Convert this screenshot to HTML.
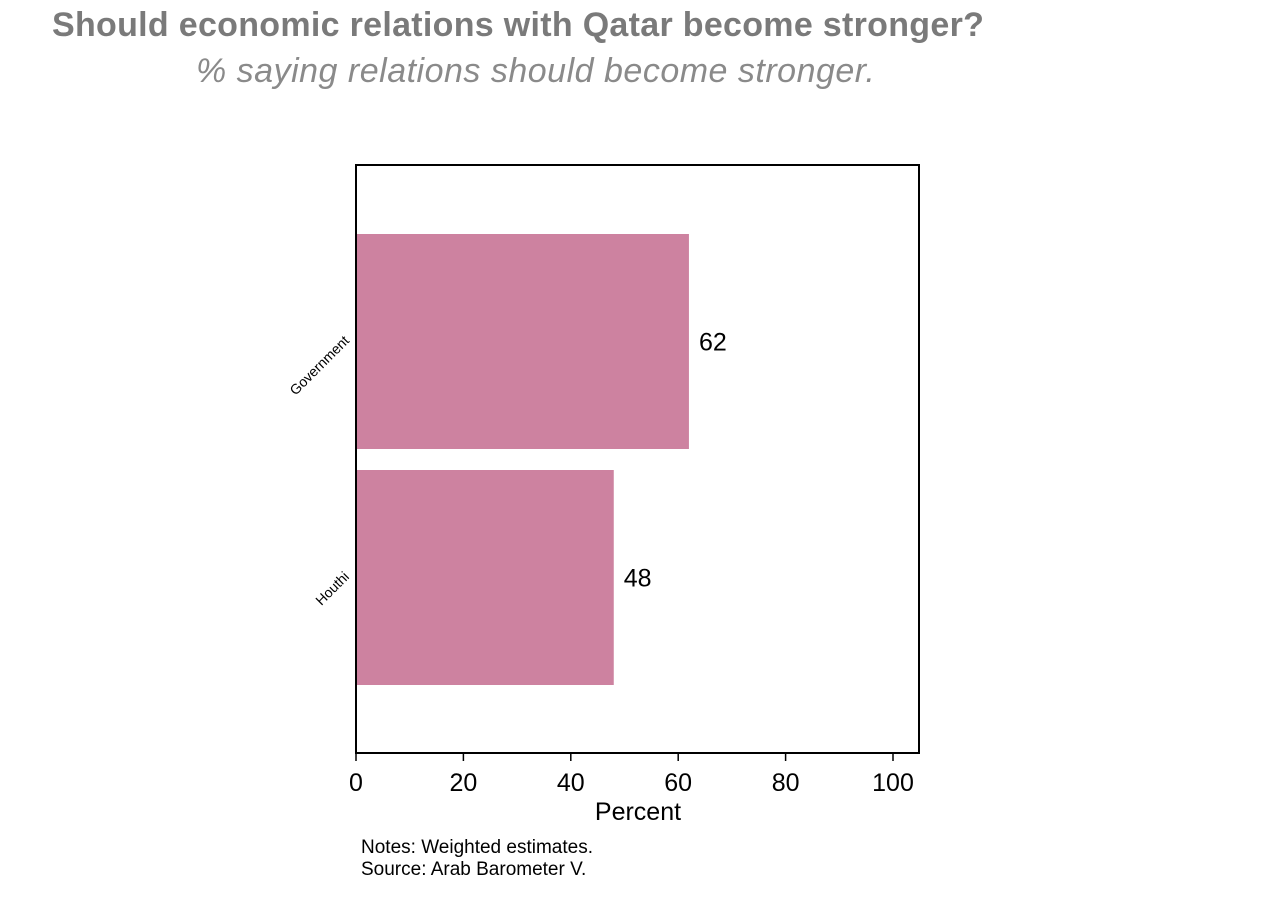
<!DOCTYPE html>
<html><head><meta charset="utf-8"><style>
body{margin:0;background:#fff;width:1280px;height:914px;overflow:hidden;font-family:"Liberation Sans",sans-serif}
.t1{position:absolute;left:52px;top:6px;font-size:34px;font-weight:bold;color:#7a7a7a;letter-spacing:0.3px}
.t2{position:absolute;left:196px;top:52px;font-size:34px;font-style:italic;color:#8a8a8a;letter-spacing:0.5px}
</style></head><body>
<div class="t1">Should economic relations with Qatar become stronger?</div>
<div class="t2">% saying relations should become stronger.</div>
<svg id="chart" width="1280" height="914" style="position:absolute;left:0;top:0"></svg>
<script>
const categories=["Government","Houthi"];
const values=[62,48];
const ticks=[0,20,40,60,80,100];
const svg=document.getElementById('chart');
const NS="http://www.w3.org/2000/svg";
const L=356,R=919,T=165,B=753,X100=893;
const xs=v=>L+(X100-L)*v/100;
const bandTop=[234,470],bandH=215;
function mk(tag,attrs){const e=document.createElementNS(NS,tag);for(const k in attrs)e.setAttribute(k,attrs[k]);svg.appendChild(e);return e;}
const frame=mk('rect',{x:L,y:T,width:R-L,height:B-T,fill:'none',stroke:'#000','stroke-width':2});


categories.forEach((c,i)=>{
  const y=bandTop[0]+i*(bandTop[1]-bandTop[0]);
  const b=mk('rect',{x:L+1,y:y,width:xs(values[i])-L-1,height:bandH,fill:'#cd82a0'});
  
  
  const v=mk('text',{x:xs(values[i])+10,y:y+bandH/2+9,'font-size':25,fill:'#000'});
  v.textContent=values[i];
  
  
  const cy=y+bandH/2;
  const lab=mk('text',{x:350,y:cy,'font-size':14,'text-anchor':'end',transform:`rotate(-45 350 ${cy})`});
  lab.textContent=c;
  
  
});
ticks.forEach(t=>{
  const x=xs(t);
  const l=mk('line',{x1:x,x2:x,y1:B,y2:B+8,stroke:'#000','stroke-width':1.5});
  
  
  const tx=mk('text',{x:x,y:B+38,'font-size':25,'text-anchor':'middle'});
  tx.textContent=t;
  
  
});
const xt=mk('text',{x:638,y:820,'font-size':25,'text-anchor':'middle'});
xt.textContent='Percent';


const n1=mk('text',{x:361,y:853,'font-size':19});
n1.textContent='Notes: Weighted estimates.';


const n2=mk('text',{x:361,y:875,'font-size':19});
n2.textContent='Source: Arab Barometer V.';


</script>
</body></html>
